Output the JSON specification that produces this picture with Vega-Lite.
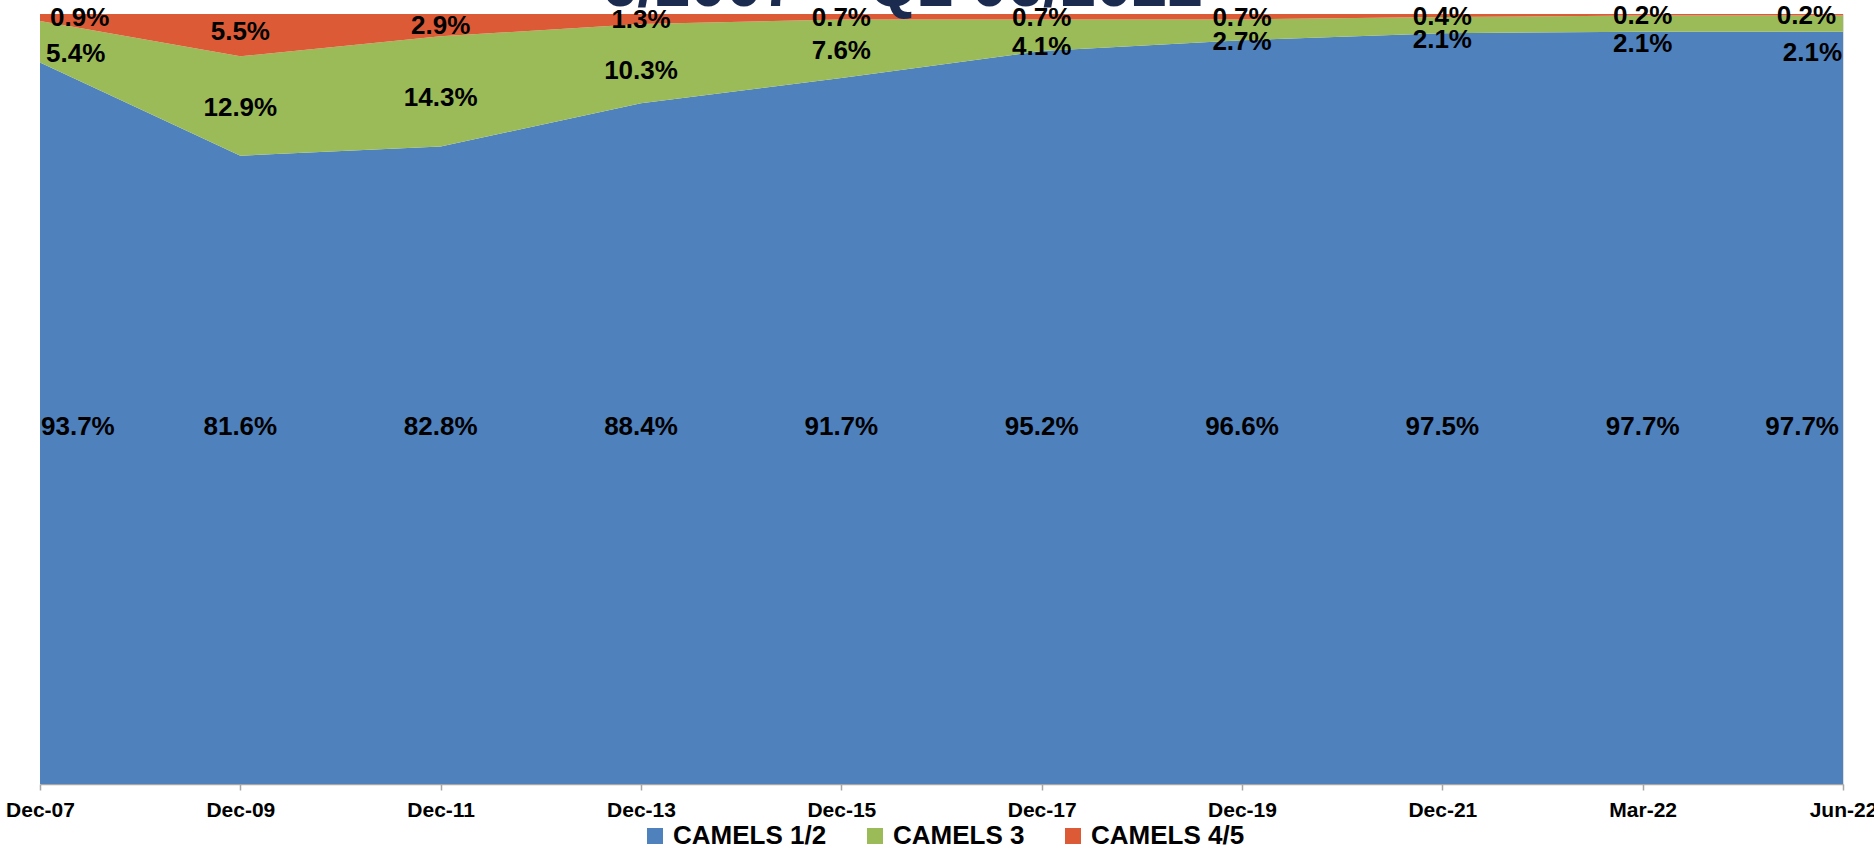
{
  "$schema": "https://vega.github.io/schema/vega-lite/v6.json",
  "autosize": {"type": "none"},
  "width": 1803,
  "height": 770,
  "padding": {"left": 40, "top": 14, "right": 31, "bottom": 67},
  "background": "white",
  "datasets": {
    "heading": [{"t": "6/2007 – Q2 06/2022"}]
  },
  "data": {
    "values": [
      {"date": "Dec-07", "series": "CAMELS 1/2", "value": 0.937},
      {"date": "Dec-07", "series": "CAMELS 3", "value": 0.054},
      {"date": "Dec-07", "series": "CAMELS 4/5", "value": 0.009},
      {"date": "Dec-09", "series": "CAMELS 1/2", "value": 0.816},
      {"date": "Dec-09", "series": "CAMELS 3", "value": 0.129},
      {"date": "Dec-09", "series": "CAMELS 4/5", "value": 0.055},
      {"date": "Dec-11", "series": "CAMELS 1/2", "value": 0.828},
      {"date": "Dec-11", "series": "CAMELS 3", "value": 0.143},
      {"date": "Dec-11", "series": "CAMELS 4/5", "value": 0.029},
      {"date": "Dec-13", "series": "CAMELS 1/2", "value": 0.884},
      {"date": "Dec-13", "series": "CAMELS 3", "value": 0.103},
      {"date": "Dec-13", "series": "CAMELS 4/5", "value": 0.013},
      {"date": "Dec-15", "series": "CAMELS 1/2", "value": 0.917},
      {"date": "Dec-15", "series": "CAMELS 3", "value": 0.076},
      {"date": "Dec-15", "series": "CAMELS 4/5", "value": 0.007},
      {"date": "Dec-17", "series": "CAMELS 1/2", "value": 0.952},
      {"date": "Dec-17", "series": "CAMELS 3", "value": 0.041},
      {"date": "Dec-17", "series": "CAMELS 4/5", "value": 0.007},
      {"date": "Dec-19", "series": "CAMELS 1/2", "value": 0.966},
      {"date": "Dec-19", "series": "CAMELS 3", "value": 0.027},
      {"date": "Dec-19", "series": "CAMELS 4/5", "value": 0.007},
      {"date": "Dec-21", "series": "CAMELS 1/2", "value": 0.975},
      {"date": "Dec-21", "series": "CAMELS 3", "value": 0.021},
      {"date": "Dec-21", "series": "CAMELS 4/5", "value": 0.004},
      {"date": "Mar-22", "series": "CAMELS 1/2", "value": 0.977},
      {"date": "Mar-22", "series": "CAMELS 3", "value": 0.021},
      {"date": "Mar-22", "series": "CAMELS 4/5", "value": 0.002},
      {"date": "Jun-22", "series": "CAMELS 1/2", "value": 0.977},
      {"date": "Jun-22", "series": "CAMELS 3", "value": 0.021},
      {"date": "Jun-22", "series": "CAMELS 4/5", "value": 0.002}
    ]
  },
  "encoding": {
    "x": {
      "field": "date",
      "type": "ordinal",
      "scale": {"type": "point", "padding": 0, "domain": ["Dec-07", "Dec-09", "Dec-11", "Dec-13", "Dec-15", "Dec-17", "Dec-19", "Dec-21", "Mar-22", "Jun-22"]},
      "axis": {
        "title": null,
        "labelAngle": 0,
        "labelFont": "Liberation Sans",
        "labelFontWeight": "bold",
        "labelFontSize": 21,
        "labelColor": "#000000",
        "labelPadding": 9,
        "labelOverlap": false,
        "domainColor": "#A6A6A6",
        "domainWidth": 1.5,
        "tickColor": "#A6A6A6",
        "tickSize": 6,
        "tickWidth": 1.5,
        "grid": false
      }
    }
  },
  "layer": [
    {
      "transform": [
        {"stack": "value", "groupby": ["date"], "sort": [{"field": "series", "order": "ascending"}], "as": ["y0", "y1"]}
      ],
      "mark": {"type": "area", "opacity": 1},
      "encoding": {
        "y": {"field": "y1", "type": "quantitative", "scale": {"domain": [0, 1], "nice": false, "zero": true, "clamp": false}, "axis": null},
        "y2": {"field": "y0"},
        "color": {
          "field": "series",
          "type": "nominal",
          "scale": {"domain": ["CAMELS 1/2", "CAMELS 3", "CAMELS 4/5"], "range": ["#4F81BD", "#9BBB59", "#DC5B36"]},
          "legend": {
            "title": null,
            "orient": "none",
            "legendX": 602,
            "legendY": 809,
            "padding": 0,
            "direction": "horizontal",
            "symbolType": "square",
            "symbolSize": 256,
            "symbolStrokeWidth": 0,
            "labelFont": "Liberation Sans",
            "labelFontWeight": "bold",
            "labelFontSize": 26,
            "labelColor": "#000000",
            "labelOffset": 5,
            "columnPadding": 35
          }
        }
      }
    },
    {
      "data": {"name": "heading"},
      "mark": {"type": "text", "font": "Liberation Sans", "fontWeight": "bold", "fontSize": 64, "baseline": "alphabetic", "align": "center", "color": "#1B2A4F", "dx": 61},
      "encoding": {
        "x": {"datum": "Dec-15"},
        "y": {"datum": 1.01, "type": "quantitative"},
        "text": {"field": "t", "type": "nominal"}
      }
    },
    {
      "transform": [{"filter": "datum.series === 'CAMELS 1/2'"}],
      "mark": {
        "type": "text", "font": "Liberation Sans", "fontWeight": "bold", "fontSize": 26, "baseline": "middle", "color": "#000000",
        "align": {"expr": "datum.date === 'Dec-07' ? 'left' : datum.date === 'Jun-22' ? 'right' : 'center'"},
        "dx": {"expr": "datum.date === 'Dec-07' ? 1 : datum.date === 'Jun-22' ? -4 : 0"}
      },
      "encoding": {
        "y": {"datum": 0.463, "type": "quantitative"},
        "text": {"field": "value", "type": "quantitative", "format": ".1%"}
      }
    },
    {
      "transform": [
        {"stack": "value", "groupby": ["date"], "sort": [{"field": "series", "order": "ascending"}], "as": ["y0", "y1"]},
        {"filter": "datum.series === 'CAMELS 4/5'"},
        {"fold": ["y0", "y1"], "as": ["edge", "pos"]},
        {"aggregate": [{"op": "mean", "field": "pos", "as": "mid"}], "groupby": ["date", "series", "value"]}
      ],
      "mark": {
        "type": "text", "font": "Liberation Sans", "fontWeight": "bold", "fontSize": 26, "baseline": "middle", "color": "#000000",
        "align": {"expr": "datum.date === 'Dec-07' ? 'left' : datum.date === 'Jun-22' ? 'right' : 'center'"},
        "dx": {"expr": "datum.date === 'Dec-07' ? 10 : datum.date === 'Jun-22' ? -7 : 0"},
        "dy": {"expr": "datum.date === 'Dec-09' ? -3 : 1"}
      },
      "encoding": {
        "y": {"field": "mid", "type": "quantitative"},
        "text": {"field": "value", "type": "quantitative", "format": ".1%"}
      }
    },
    {
      "transform": [
        {"stack": "value", "groupby": ["date"], "sort": [{"field": "series", "order": "ascending"}], "as": ["y0", "y1"]},
        {"filter": "datum.series === 'CAMELS 3'"},
        {"fold": ["y0", "y1"], "as": ["edge", "pos"]},
        {"aggregate": [{"op": "mean", "field": "pos", "as": "mid"}], "groupby": ["date", "series", "value"]}
      ],
      "mark": {
        "type": "text", "font": "Liberation Sans", "fontWeight": "bold", "fontSize": 26, "baseline": "middle", "color": "#000000",
        "align": {"expr": "datum.date === 'Dec-07' ? 'left' : datum.date === 'Jun-22' ? 'right' : 'center'"},
        "dx": {"expr": "datum.date === 'Dec-07' ? 6 : datum.date === 'Jun-22' ? -1 : 0"},
        "dy": {"expr": "datum.date === 'Jun-22' ? 29 : datum.date === 'Mar-22' ? 20 : datum.date === 'Dec-21' ? 15 : datum.date === 'Dec-09' || datum.date === 'Dec-15' ? 2 : datum.date === 'Dec-17' || datum.date === 'Dec-19' || datum.date === 'Dec-07' ? 12 : 7"}
      },
      "encoding": {
        "y": {"field": "mid", "type": "quantitative"},
        "text": {"field": "value", "type": "quantitative", "format": ".1%"}
      }
    }
  ]
}
